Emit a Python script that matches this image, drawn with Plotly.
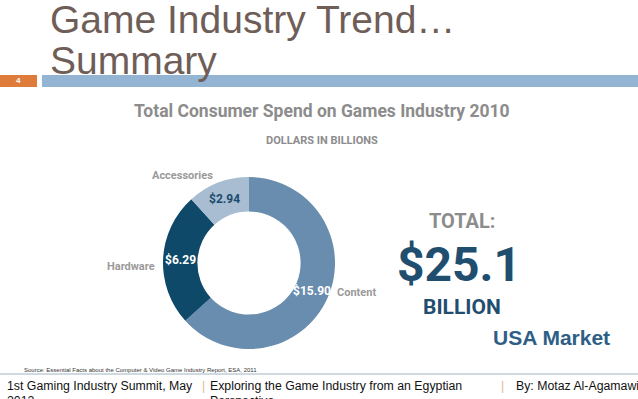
import math
import plotly.graph_objects as go

W, H = 638, 399

# ---- data ----
categories = ["Content", "Hardware", "Accessories"]
spend_billions = [15.90, 6.29, 2.94]
total_billions = 25.1
slide_title = ["Game Industry Trend…", "Summary"]
chart_title = "Total Consumer Spend on Games Industry 2010"
chart_subtitle = "DOLLARS IN BILLIONS"
source_note = "Source: Essential Facts about the Computer & Video Game Industry Report, ESA, 2011"
footer_left = ["1st Gaming Industry Summit, May", "2012"]
footer_mid = ["Exploring the Game Industry from an Egyptian", "Perspective"]
footer_right = "By: Motaz Al-Agamawi"
slide_number = "4"

# ---- style ----
slice_colors = ["#698dae", "#0e496a", "#a8bdd1"]
inside_colors = ["#ffffff", "#ffffff", "#1b4c6e"]
COND = "Roboto, Liberation Sans, sans-serif"
ARIAL = "Liberation Sans, Arial, sans-serif"
HOLE = 0.6


def px(x):
    return x / W


def py(y):
    return 1 - y / H


cx, cy, r = 249, 263, 86

fig = go.Figure()
fig.add_trace(go.Pie(
    labels=categories,
    values=spend_billions,
    sort=False,
    direction="clockwise",
    rotation=0,
    hole=HOLE,
    marker=dict(colors=slice_colors, line=dict(width=0)),
    textinfo="none",
    hoverinfo="label+value",
    domain=dict(x=[px(cx - r), px(cx + r)], y=[py(cy + r), py(cy - r)]),
))

anns = []


def ann(text, x, y, size, color, family=ARIAL, weight="normal", xanchor="center"):
    anns.append(dict(text=text, x=px(x), y=py(y), xref="paper", yref="paper",
                     xanchor=xanchor, yanchor="middle", showarrow=False,
                     font=dict(family=family, size=size, color=color, weight=weight)))


# value labels placed at the middle of each slice in the ring (angles from the data)
total = sum(spend_billions)
cum = 0.0
R_mid = r * (1 + HOLE) / 2
for v, col in zip(spend_billions, inside_colors):
    theta = 2 * math.pi * (cum + v / 2) / total
    cum += v
    lx = cx + R_mid * math.sin(theta)
    ly = cy - R_mid * math.cos(theta)
    ann("$%.2f" % v, lx, ly, 12, col, family=COND, weight="bold")

# slide title
ann(slide_title[0], 48, 19, 39, "#6f5e58", xanchor="left")
ann(slide_title[1], 48, 60, 39, "#6f5e58", xanchor="left")
ann(slide_number, 18, 81, 8, "#ffffff", weight="bold")

# chart titles
ann(chart_title, 322, 111, 17.5, "#8c8c8c", family=COND, weight="bold")
ann(chart_subtitle, 322, 140, 11, "#8c8c8c", family=COND, weight="bold")

# slice names
ann(categories[2], 182, 175, 11, "#9a9a9a", family=COND, weight="bold")
ann(categories[1], 131, 266, 11, "#9a9a9a", family=COND, weight="bold")
ann(categories[0], 335, 292, 11, "#9a9a9a", family=COND, weight="bold", xanchor="left")

# total
ann("TOTAL:", 462, 221, 20, "#8c8c8c", family=COND, weight="bold")
ann("$%.1f" % total_billions, 459, 264, 48, "#1f4e6f", family=COND, weight="bold")
ann("BILLION", 462, 307, 21, "#1f4e6f", family=COND, weight="bold")
ann("USA Market", 551, 337, 21, "#2e5e86", weight="bold")

# source + footer
ann(source_note, 22, 370, 6, "#333333", xanchor="left")
ann(footer_left[0], 5, 386, 12.3, "#111111", xanchor="left")
ann(footer_left[1], 5, 401, 12.3, "#111111", xanchor="left")
ann("|", 203, 386, 12.3, "#e5b98c")
ann(footer_mid[0], 208, 386, 12.3, "#111111", xanchor="left")
ann(footer_mid[1], 208, 401, 12.3, "#111111", xanchor="left")
ann("|", 503, 386, 12.3, "#e5b98c")
ann(footer_right, 514, 386, 12.3, "#111111", xanchor="left")

shapes = [
    dict(type="rect", xref="paper", yref="paper", x0=px(0), x1=px(37), y0=py(87), y1=py(75),
         fillcolor="#df7c3c", line=dict(width=0), layer="below"),
    dict(type="rect", xref="paper", yref="paper", x0=px(42), x1=px(638), y0=py(87), y1=py(75),
         fillcolor="#93b4d3", line=dict(width=0), layer="below"),
    dict(type="line", xref="paper", yref="paper", x0=px(0), x1=px(638), y0=py(374), y1=py(374),
         line=dict(color="#9fb3c3", width=1)),
]

fig.update_layout(
    width=W, height=H,
    margin=dict(l=0, r=0, t=0, b=0),
    paper_bgcolor="#ffffff", plot_bgcolor="#ffffff",
    showlegend=False,
    annotations=anns,
    shapes=shapes,
)

fig.write_html("out.html",
               config={"displayModeBar": False},
               post_script="document.body.style.margin='0';document.body.style.overflow='hidden';")
